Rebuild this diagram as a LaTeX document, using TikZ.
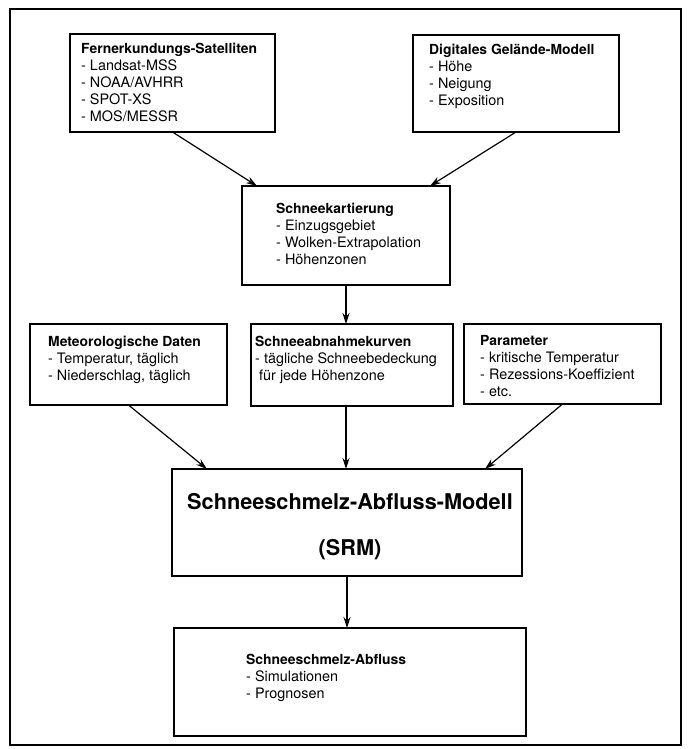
\documentclass[tikz,border=0pt]{standalone}
\usepackage{fontspec}
\setmainfont{TeX Gyre Heros}
\usetikzlibrary{arrows.meta}

\newcommand{\titel}[1]{{\bfseries\fontsize{13.9}{17}\selectfont #1}}

\tikzset{
  box/.style={draw, line width=1.2pt, anchor=north west, inner sep=0pt, outer sep=0pt},
  txt/.style={anchor=north west, inner sep=0pt, align=left, font=\fontsize{14.4}{17}\selectfont},
  pfeil/.style={line width=1.2pt, -{Stealth[length=11pt,width=7pt]}},
}

\begin{document}
\begin{tikzpicture}[x=1pt,y=1pt,yscale=-1,xscale=1]
    \useasboundingbox (0,0) rectangle (688,749);

    %Shape: Frame
    \draw[line width=1.2pt] (10,9) rectangle (681,745);

    %Shape: Rectangle [sat]
    \node[box, minimum width=205, minimum height=98] (sat) at (70,34) {};
    %Shape: Rectangle [dgm]
    \node[box, minimum width=206, minimum height=97] (dgm) at (413,35) {};
    %Shape: Rectangle [kart]
    \node[box, minimum width=208, minimum height=99] (kart) at (242,186) {};
    %Shape: Rectangle [met]
    \node[box, minimum width=197, minimum height=81] (met) at (30,324) {};
    %Shape: Rectangle [abn]
    \node[box, minimum width=202, minimum height=82] (abn) at (251,324) {};
    %Shape: Rectangle [par]
    \node[box, minimum width=197, minimum height=80] (par) at (464,324) {};
    %Shape: Rectangle [srm]
    \node[box, minimum width=350, minimum height=107] (srm) at (172,469) {};
    %Shape: Rectangle [out]
    \node[box, minimum width=352, minimum height=108] (out) at (174,628) {};

    % Text Node
    \node[txt] (sat-txt) at (81,42.6) {\titel{Fernerkundungs-Satelliten}\\- Landsat-MSS\\- NOAA/AVHRR\\- SPOT-XS\\- MOS/MESSR};
    % Text Node
    \node[txt] (dgm-txt) at (429,43.6) {\titel{Digitales Gelände-Modell}\\- Höhe\\- Neigung\\- Exposition};
    % Text Node
    \node[txt] (kart-txt) at (276,202.6) {\titel{Schneekartierung}\\- Einzugsgebiet\\- Wolken-Extrapolation\\- Höhenzonen};
    % Text Node
    \node[txt] (met-txt) at (48,335.6) {\titel{Meteorologische Daten}\\- Temperatur, täglich\\- Niederschlag, täglich};
    % Text Node
    \node[txt] (abn-txt) at (255,335.6) {\titel{Schneeabnahmekurven}\\- tägliche Schneebedeckung\\\hspace*{4pt}für jede Höhenzone};
    % Text Node
    \node[txt] (par-txt) at (480,335.6) {\titel{Parameter}\\- kritische Temperatur\\- Rezessions-Koeffizient\\- etc.};
    % Text Node
    \node[anchor=north, inner sep=0pt, align=center, font=\fontsize{21.7}{46}\selectfont\bfseries] (srm-txt) at (350,493.3) {Schneeschmelz-Abfluss-Modell\\(SRM)};
    % Text Node
    \node[txt] (out-txt) at (246,653.6) {\titel{Schneeschmelz-Abfluss}\\- Simulationen\\- Prognosen};

    %Straight Lines
    \draw[pfeil] (sat.south) -- ([xshift=15pt]kart.north west);
    \draw[pfeil] (dgm.south) -- ([xshift=-20pt]kart.north east);
    \draw[pfeil] (kart.south) -- (kart.south |- abn.north);
    \draw[pfeil] (met.south) -- ([xshift=35pt]srm.north west);
    \draw[pfeil] (abn.south -| kart.south) -- (srm.north -| kart.south);
    \draw[pfeil] (par.south) -- ([xshift=-37pt]srm.north east);
    \draw[pfeil] (srm.south) -- (srm.south |- out.north);
\end{tikzpicture}
\end{document}
